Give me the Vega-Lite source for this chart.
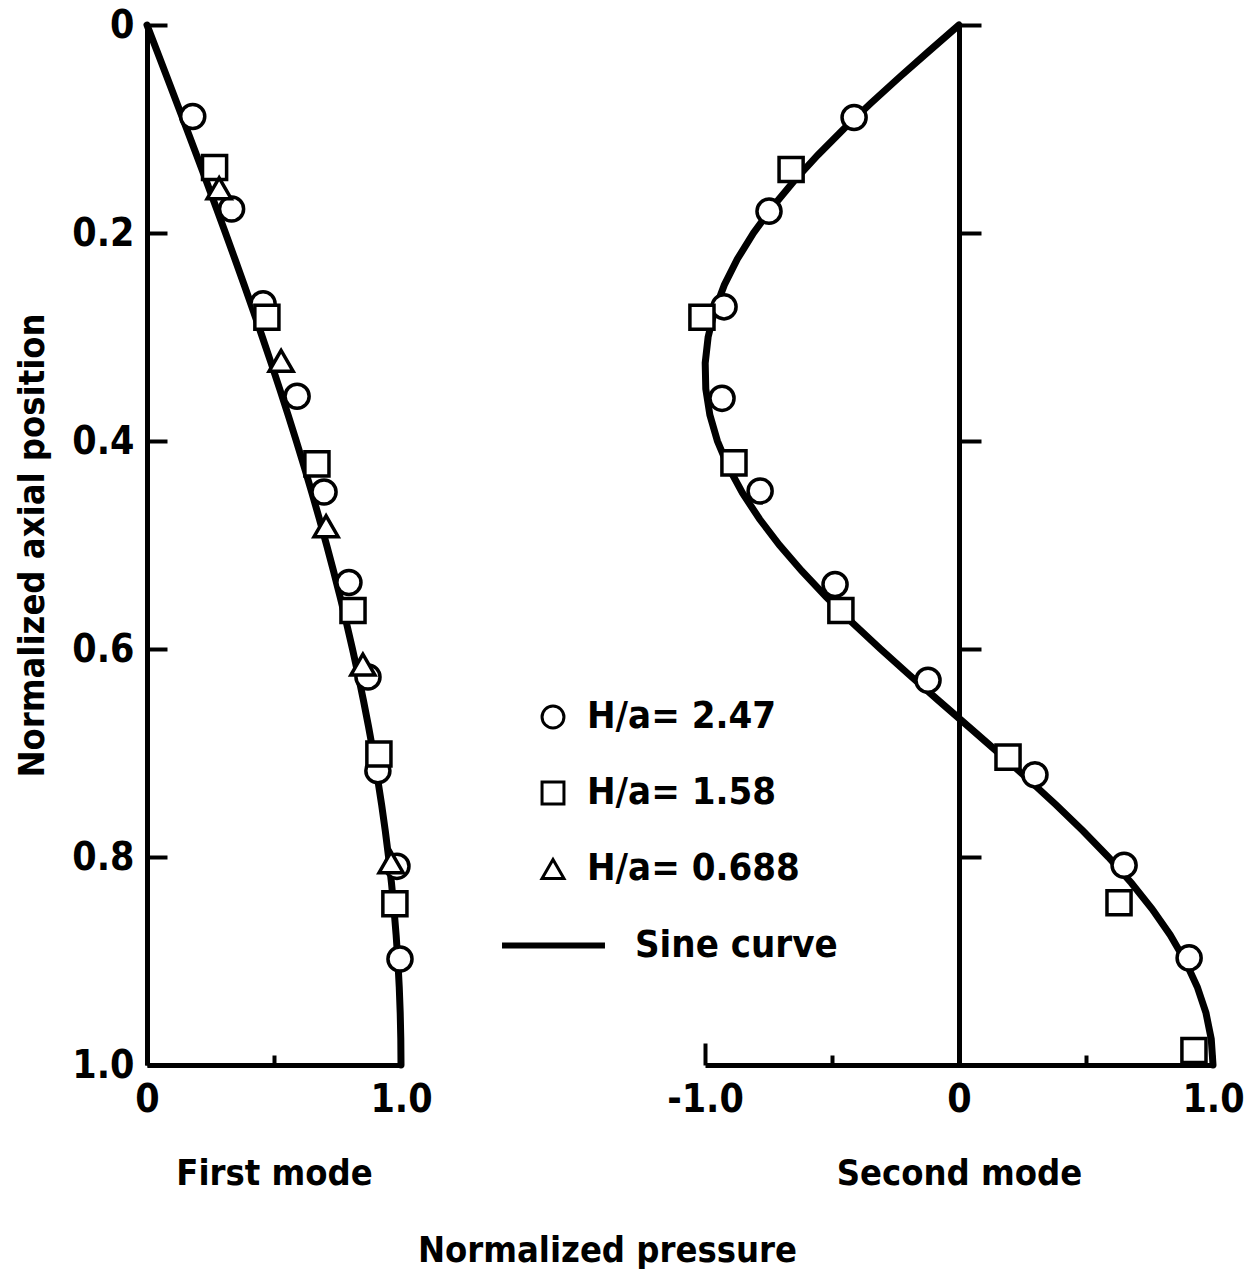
{
  "$schema": "https://vega.github.io/schema/vega-lite/v6.json",
  "background": "white",
  "padding": {"left": 14, "top": 6, "right": 20, "bottom": 10},
  "config": {
    "view": {"stroke": null},
    "axis": {
      "grid": false,
      "domainColor": "black",
      "domainWidth": 5,
      "tickColor": "black",
      "tickWidth": 4,
      "labelColor": "black",
      "labelFont": "DejaVu Sans Condensed, DejaVu Sans, sans-serif",
      "labelFontSize": 39,
      "labelFontWeight": "bold",
      "labelFlush": false,
      "labelOverlap": false,
      "titleColor": "black",
      "titleFont": "DejaVu Sans Condensed, DejaVu Sans, sans-serif",
      "titleFontSize": 36,
      "titleFontWeight": "bold"
    },
    "legend": {
      "labelColor": "black",
      "labelFont": "DejaVu Sans Condensed, DejaVu Sans, sans-serif",
      "labelFontSize": 38,
      "labelFontWeight": "bold",
      "labelLimit": 400
    }
  },
  "datasets": {
    "curve1": [
      {"p": 0, "z": 0}, {"p": 0.0393, "z": 0.025}, {"p": 0.0785, "z": 0.05}, {"p": 0.1175, "z": 0.075},
      {"p": 0.1564, "z": 0.1}, {"p": 0.1951, "z": 0.125}, {"p": 0.2335, "z": 0.15}, {"p": 0.2714, "z": 0.175},
      {"p": 0.309, "z": 0.2}, {"p": 0.3461, "z": 0.225}, {"p": 0.3827, "z": 0.25}, {"p": 0.4187, "z": 0.275},
      {"p": 0.454, "z": 0.3}, {"p": 0.4886, "z": 0.325}, {"p": 0.5225, "z": 0.35}, {"p": 0.5556, "z": 0.375},
      {"p": 0.5878, "z": 0.4}, {"p": 0.6191, "z": 0.425}, {"p": 0.6494, "z": 0.45}, {"p": 0.6788, "z": 0.475},
      {"p": 0.7071, "z": 0.5}, {"p": 0.7343, "z": 0.525}, {"p": 0.7604, "z": 0.55}, {"p": 0.7853, "z": 0.575},
      {"p": 0.809, "z": 0.6}, {"p": 0.8315, "z": 0.625}, {"p": 0.8526, "z": 0.65}, {"p": 0.8725, "z": 0.675},
      {"p": 0.891, "z": 0.7}, {"p": 0.9081, "z": 0.725}, {"p": 0.9239, "z": 0.75}, {"p": 0.9382, "z": 0.775},
      {"p": 0.9511, "z": 0.8}, {"p": 0.9625, "z": 0.825}, {"p": 0.9724, "z": 0.85}, {"p": 0.9808, "z": 0.875},
      {"p": 0.9877, "z": 0.9}, {"p": 0.9931, "z": 0.925}, {"p": 0.9969, "z": 0.95}, {"p": 0.9992, "z": 0.975},
      {"p": 1.0, "z": 1.0}
    ],
    "curve2": [
      {"p": 0, "z": 0}, {"p": -0.1175, "z": 0.025}, {"p": -0.2335, "z": 0.05}, {"p": -0.3461, "z": 0.075},
      {"p": -0.454, "z": 0.1}, {"p": -0.5556, "z": 0.125}, {"p": -0.6494, "z": 0.15}, {"p": -0.7343, "z": 0.175},
      {"p": -0.809, "z": 0.2}, {"p": -0.8725, "z": 0.225}, {"p": -0.9239, "z": 0.25}, {"p": -0.9625, "z": 0.275},
      {"p": -0.9877, "z": 0.3}, {"p": -0.9992, "z": 0.325}, {"p": -0.9969, "z": 0.35}, {"p": -0.9808, "z": 0.375},
      {"p": -0.9511, "z": 0.4}, {"p": -0.9081, "z": 0.425}, {"p": -0.8526, "z": 0.45}, {"p": -0.7853, "z": 0.475},
      {"p": -0.7071, "z": 0.5}, {"p": -0.6191, "z": 0.525}, {"p": -0.5225, "z": 0.55}, {"p": -0.4187, "z": 0.575},
      {"p": -0.309, "z": 0.6}, {"p": -0.1951, "z": 0.625}, {"p": -0.0785, "z": 0.65}, {"p": 0.0393, "z": 0.675},
      {"p": 0.1564, "z": 0.7}, {"p": 0.2714, "z": 0.725}, {"p": 0.3827, "z": 0.75}, {"p": 0.4886, "z": 0.775},
      {"p": 0.5878, "z": 0.8}, {"p": 0.6788, "z": 0.825}, {"p": 0.7604, "z": 0.85}, {"p": 0.8315, "z": 0.875},
      {"p": 0.891, "z": 0.9}, {"p": 0.9382, "z": 0.925}, {"p": 0.9724, "z": 0.95}, {"p": 0.9931, "z": 0.975},
      {"p": 1.0, "z": 1.0}
    ],
    "pts1": [
      {"s": "H/a= 2.47", "p": 0.18, "z": 0.088},
      {"s": "H/a= 2.47", "p": 0.333, "z": 0.177},
      {"s": "H/a= 2.47", "p": 0.457, "z": 0.268},
      {"s": "H/a= 2.47", "p": 0.591, "z": 0.357},
      {"s": "H/a= 2.47", "p": 0.697, "z": 0.449},
      {"s": "H/a= 2.47", "p": 0.795, "z": 0.536},
      {"s": "H/a= 2.47", "p": 0.87, "z": 0.627},
      {"s": "H/a= 2.47", "p": 0.909, "z": 0.717},
      {"s": "H/a= 2.47", "p": 0.984, "z": 0.809},
      {"s": "H/a= 2.47", "p": 0.996, "z": 0.898},
      {"s": "H/a= 1.58", "p": 0.266, "z": 0.137},
      {"s": "H/a= 1.58", "p": 0.472, "z": 0.281},
      {"s": "H/a= 1.58", "p": 0.669, "z": 0.422},
      {"s": "H/a= 1.58", "p": 0.811, "z": 0.563},
      {"s": "H/a= 1.58", "p": 0.913, "z": 0.701},
      {"s": "H/a= 1.58", "p": 0.976, "z": 0.845},
      {"s": "H/a= 0.688", "p": 0.284, "z": 0.157},
      {"s": "H/a= 0.688", "p": 0.528, "z": 0.323},
      {"s": "H/a= 0.688", "p": 0.705, "z": 0.482},
      {"s": "H/a= 0.688", "p": 0.85, "z": 0.615},
      {"s": "H/a= 0.688", "p": 0.961, "z": 0.805}
    ],
    "pts2": [
      {"s": "H/a= 2.47", "p": -0.413, "z": 0.089},
      {"s": "H/a= 2.47", "p": -0.748, "z": 0.179},
      {"s": "H/a= 2.47", "p": -0.925, "z": 0.271},
      {"s": "H/a= 2.47", "p": -0.933, "z": 0.359},
      {"s": "H/a= 2.47", "p": -0.783, "z": 0.448},
      {"s": "H/a= 2.47", "p": -0.488, "z": 0.538},
      {"s": "H/a= 2.47", "p": -0.122, "z": 0.63},
      {"s": "H/a= 2.47", "p": 0.299, "z": 0.721},
      {"s": "H/a= 2.47", "p": 0.65, "z": 0.808},
      {"s": "H/a= 2.47", "p": 0.906, "z": 0.897},
      {"s": "H/a= 1.58", "p": -0.661, "z": 0.139},
      {"s": "H/a= 1.58", "p": -1.012, "z": 0.281},
      {"s": "H/a= 1.58", "p": -0.886, "z": 0.421},
      {"s": "H/a= 1.58", "p": -0.465, "z": 0.563},
      {"s": "H/a= 1.58", "p": 0.193, "z": 0.704},
      {"s": "H/a= 1.58", "p": 0.63, "z": 0.844},
      {"s": "H/a= 1.58", "p": 0.925, "z": 0.986}
    ]
  },
  "title": {
    "text": "Normalized pressure",
    "orient": "bottom",
    "anchor": "middle",
    "font": "DejaVu Sans Condensed, DejaVu Sans, sans-serif",
    "fontSize": 36,
    "fontWeight": "bold",
    "color": "black",
    "offset": 43,
    "dx": -22
  },
  "bounds": "flush",
  "spacing": 304,
  "hconcat": [
    {
      "width": 254,
      "height": 1040,
      "layer": [
        {
          "data": {"name": "curve1"},
          "mark": {"type": "line", "strokeWidth": 7, "strokeCap": "round"},
          "encoding": {
            "x": {
              "field": "p", "type": "quantitative",
              "scale": {"domain": [0, 1], "nice": false, "zero": false},
              "axis": {
                "values": [0, 0.5, 1],
                "labelExpr": "datum.value == 0 ? '0' : datum.value == 1 ? '1.0' : ''",
                "tickSize": -10,
                "labelPadding": 25,
                "title": "First mode",
                "titlePadding": 37
              }
            },
            "y": {
              "field": "z", "type": "quantitative",
              "scale": {"domain": [0, 1], "reverse": true, "nice": false, "zero": false},
              "axis": {
                "values": [0, 0.2, 0.4, 0.6, 0.8, 1],
                "labelExpr": "datum.value == 0 ? '0' : format(datum.value, '.1f')",
                "tickSize": -20,
                "labelPadding": 33,
                "title": "Normalized axial position",
                "titlePadding": 20
              }
            },
            "order": {"field": "z", "type": "quantitative"},
            "color": {
              "datum": "Sine curve", "type": "nominal",
              "scale": {"range": ["black"]},
              "legend": {
                "orient": "none", "legendX": 352, "legendY": 866, "title": null,
                "symbolType": "stroke", "symbolSize": 10600, "symbolStrokeWidth": 6,
                "labelOffset": 27
              }
            }
          }
        },
        {
          "data": {"name": "pts1"},
          "mark": {"type": "point", "filled": false, "color": "black", "fill": "white", "strokeWidth": 3.5, "size": 580, "opacity": 1},
          "encoding": {
            "x": {"field": "p", "type": "quantitative"},
            "y": {"field": "z", "type": "quantitative"},
            "shape": {
              "field": "s", "type": "nominal",
              "scale": {"domain": ["H/a= 2.47", "H/a= 1.58", "H/a= 0.688"], "range": ["circle", "square", "triangle-up"]},
              "legend": {
                "orient": "none", "legendX": 387, "legendY": 673, "title": null,
                "symbolSize": 480, "symbolStrokeWidth": 3, "rowPadding": 38, "labelOffset": 15
              }
            }
          }
        }
      ]
    },
    {
      "width": 508,
      "height": 1040,
      "layer": [
        {
          "data": {"name": "curve2"},
          "mark": {"type": "line", "strokeWidth": 7, "strokeCap": "round"},
          "encoding": {
            "x": {
              "field": "p", "type": "quantitative",
              "scale": {"domain": [-1, 1], "nice": false, "zero": false},
              "axis": {
                "values": [-1, -0.5, 0, 0.5, 1],
                "labelExpr": "datum.value == -1 ? '-1.0' : datum.value == 0 ? '0' : datum.value == 1 ? '1.0' : ''",
                "tickSize": {"condition": {"test": "datum.value == -1", "value": -22}, "value": -10},
                "labelPadding": {"condition": {"test": "datum.value == -1", "value": 37}, "value": 25},
                "title": "Second mode",
                "titlePadding": 37
              }
            },
            "y": {
              "field": "z", "type": "quantitative",
              "scale": {"domain": [0, 1], "reverse": true, "nice": false, "zero": false},
              "axis": {
                "orient": "right",
                "offset": -254,
                "values": [0, 0.2, 0.4, 0.6, 0.8, 1],
                "tickSize": 22,
                "labels": false,
                "title": null
              }
            },
            "order": {"field": "z", "type": "quantitative"},
            "color": {"datum": "Sine curve", "type": "nominal", "scale": {"range": ["black"]}}
          }
        },
        {
          "data": {"name": "pts2"},
          "mark": {"type": "point", "filled": false, "color": "black", "fill": "white", "strokeWidth": 3.5, "size": 580, "opacity": 1},
          "encoding": {
            "x": {"field": "p", "type": "quantitative"},
            "y": {"field": "z", "type": "quantitative"},
            "shape": {"field": "s", "type": "nominal"}
          }
        }
      ]
    }
  ]
}
